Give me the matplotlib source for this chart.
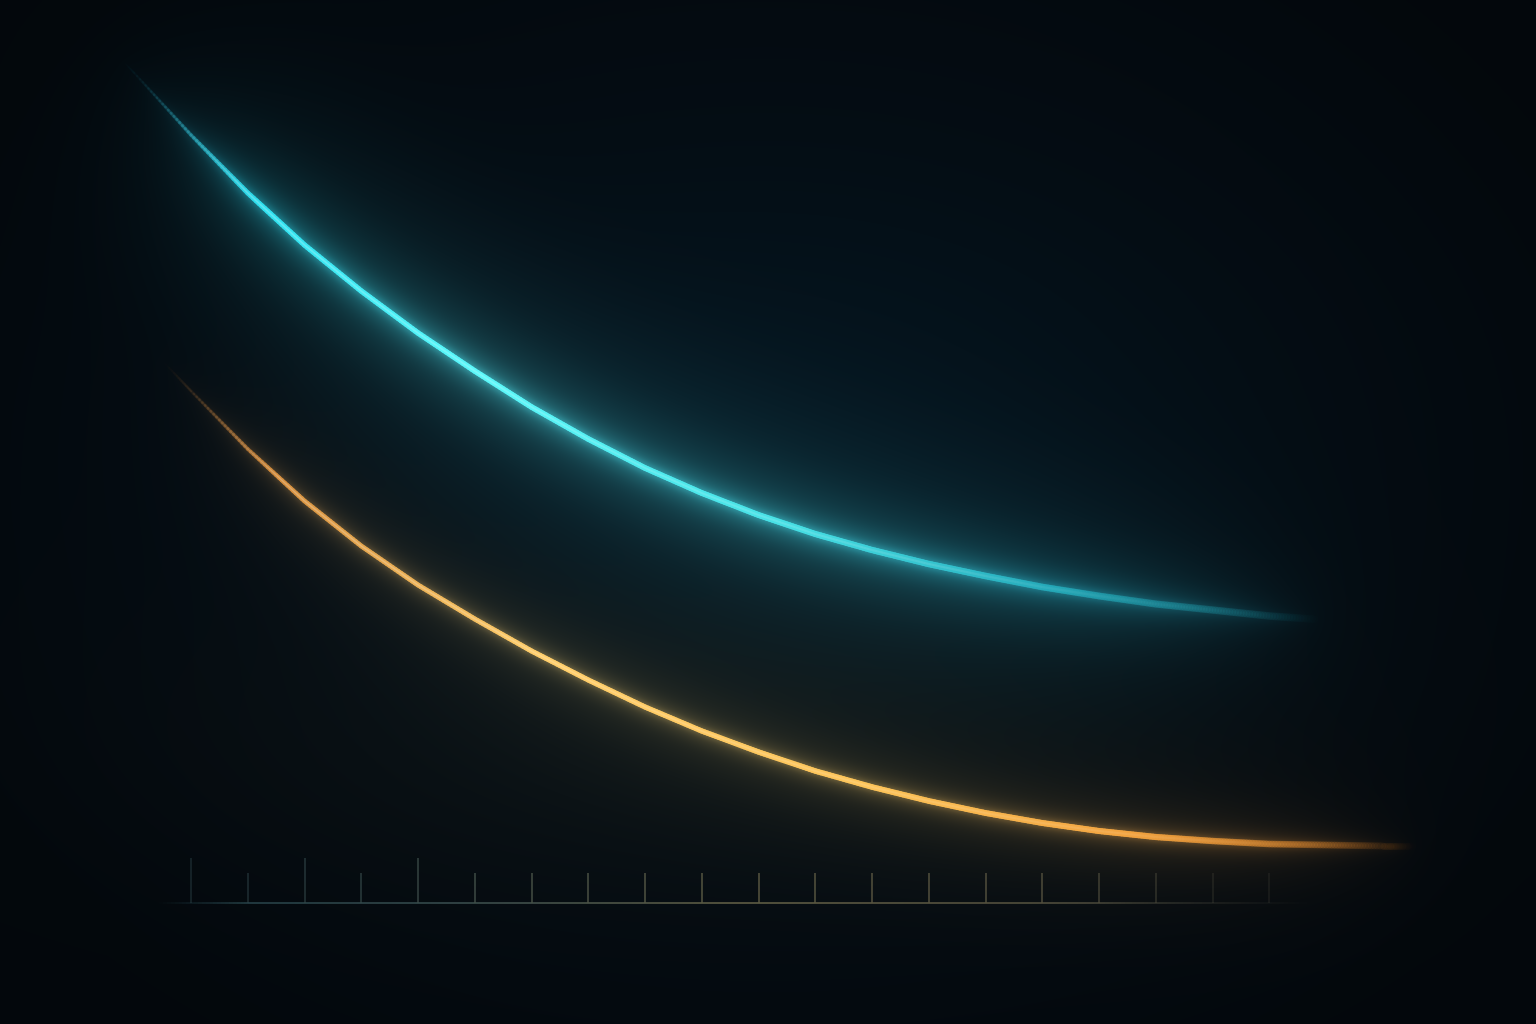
import numpy as np
import matplotlib
matplotlib.use("Agg")
import matplotlib.pyplot as plt
from matplotlib.collections import LineCollection
from matplotlib.colors import LinearSegmentedColormap

# --- data ---
tick_x = np.arange(20)
major_ticks = [0, 2, 4]

cyan_x = [-1.25, -1, 0, 1, 2, 3, 4, 5, 6, 7, 8, 9, 10, 11, 12, 13, 14, 15, 16, 17, 18, 19, 20]
cyan_y = [8.45, 8.30, 7.68, 7.10, 6.58, 6.12, 5.70, 5.32, 4.96, 4.64, 4.35, 4.10, 3.88,
          3.69, 3.53, 3.39, 3.27, 3.16, 3.07, 2.99, 2.93, 2.87, 2.83]

amber_x = [-0.55, 0, 1, 2, 3, 4, 5, 6, 7, 8, 9, 10, 11, 12, 13, 14, 15, 16, 17, 18, 19, 20, 21, 21.6]
amber_y = [5.45, 5.12, 4.54, 4.02, 3.57, 3.18, 2.84, 2.52, 2.23, 1.96, 1.72, 1.51, 1.32,
           1.16, 1.02, 0.90, 0.80, 0.72, 0.66, 0.62, 0.59, 0.58, 0.57, 0.57]

# axes limits chosen so the chart sits where it does in the picture
XLIM = (-3.366, 23.70)
YLIM = (-1.21, 9.03)
W_PX, H_PX = 1536, 1024
BG = "#060f17"

cyan_cmap = LinearSegmentedColormap.from_list("cyan", [
    (0.0, (0.08, 0.45, 0.55)), (0.15, (0.18, 0.88, 0.94)), (0.35, (0.36, 0.97, 0.98)),
    (0.6, (0.28, 0.88, 0.90)), (0.8, (0.15, 0.68, 0.74)), (1.0, (0.08, 0.42, 0.48))])
amber_cmap = LinearSegmentedColormap.from_list("amber", [
    (0.0, (0.45, 0.27, 0.12)), (0.12, (0.84, 0.56, 0.24)), (0.35, (1.0, 0.81, 0.42)),
    (0.6, (0.99, 0.77, 0.35)), (0.8, (0.95, 0.64, 0.25)), (1.0, (0.75, 0.42, 0.12))])


def densify(x, y, n=20):
    # split every straight segment into small pieces (same polyline)
    xs, ys = [], []
    for i in range(len(x) - 1):
        s = np.linspace(0, 1, n, endpoint=False)
        xs.append(x[i] + (x[i + 1] - x[i]) * s)
        ys.append(y[i] + (y[i + 1] - y[i]) * s)
    xs.append([x[-1]])
    ys.append([y[-1]])
    return np.concatenate(xs), np.concatenate(ys)


def line_pieces(x, y, cmap, fade_in, hold, wprof):
    px, py = densify(np.asarray(x, float), np.asarray(y, float))
    pts = np.column_stack([px, py])
    segs = np.stack([pts[:-1], pts[1:]], axis=1)
    d = np.hypot(np.diff(px) * 56.74, np.diff(py) * 100)
    s = np.concatenate([[0], np.cumsum(d)])
    t = (s[:-1] + s[1:]) / 2 / s[-1]
    env = np.clip(t / fade_in, 0, 1) ** 1.5 * np.clip((1 - t) / (1 - hold), 0, 1) ** 1.3
    w = np.interp(t, wprof[0], wprof[1])
    rgba = cmap(t)
    rgba[:, 3] = env
    return segs, rgba, w, t, env


cyan = line_pieces(cyan_x, cyan_y, cyan_cmap, 0.13, 0.72,
                   ([0, 0.15, 0.5, 0.8, 1.0], [1.4, 3.8, 4.1, 4.8, 5.8]))
amber = line_pieces(amber_x, amber_y, amber_cmap, 0.12, 0.78,
                    ([0, 0.15, 0.5, 0.8, 1.0], [1.6, 3.4, 3.8, 4.4, 5.2]))


def new_axes(fig):
    ax = fig.add_axes([0, 0, 1, 1])
    ax.set_xlim(*XLIM)
    ax.set_ylim(*YLIM)
    ax.axis("off")
    return ax


def render_light(piece, scale=1.2):
    # draw the line alone on black and grab the pixels, used as a glow source
    f = plt.figure(figsize=(W_PX / 100, H_PX / 100), dpi=100, facecolor="black")
    a = new_axes(f)
    segs, rgba, w, t, env = piece
    a.add_collection(LineCollection(segs, colors=rgba, linewidths=w * scale, capstyle="round"))
    f.canvas.draw()
    arr = np.asarray(f.canvas.buffer_rgba())[..., :3].astype(float) / 255
    plt.close(f)
    return arr


def blur(img, sigma):
    pad = int(3 * sigma)
    p = np.pad(img, ((pad, pad), (pad, pad), (0, 0)))
    fy = np.fft.fftfreq(p.shape[0])[:, None]
    fx = np.fft.rfftfreq(p.shape[1])[None, :]
    k = np.exp(-2 * (np.pi * sigma) ** 2 * (fx ** 2 + fy ** 2))
    out = np.fft.irfft2(np.fft.rfft2(p, axes=(0, 1)) * k[..., None], s=p.shape[:2], axes=(0, 1))
    return out[pad:pad + img.shape[0], pad:pad + img.shape[1]]


# background: dark navy, faint teal haze, dim warm haze low down, vignette
v, u = np.mgrid[0:H_PX, 0:W_PX].astype(float)
img = np.zeros((H_PX, W_PX, 3))
img[:] = np.array([5, 13, 20]) / 255
teal = np.exp(-(((u - 760) / 480) ** 2 + ((v - 430) / 260) ** 2))
img += teal[..., None] * np.array([0, 8, 11]) / 255
warm = np.exp(-(((u - 700) / 520) ** 2 + ((v - 740) / 160) ** 2))
img += warm[..., None] * np.array([8, 7, 3]) / 255
vig = 1 - 0.40 * (((u - 768) / 900) ** 2 + ((v - 480) / 700) ** 2)
img *= np.clip(vig, 0.6, 1)[..., None]

# glow: blurred copies of the lines, added as light
src_c = render_light(cyan)
src_a = render_light(amber)
img += 0.3 * blur(src_c, 4) + 0.7 * blur(src_c, 12) + 1.4 * blur(src_c, 32) + 2.6 * blur(src_c, 80)
img += 0.22 * blur(src_a, 3) + 0.45 * blur(src_a, 9) + 0.6 * blur(src_a, 25) + 0.9 * blur(src_a, 60)

fig = plt.figure(figsize=(W_PX / 100, H_PX / 100), dpi=100, facecolor=BG)
ax = new_axes(fig)
ax.imshow(np.clip(img, 0, 1), extent=[XLIM[0], XLIM[1], YLIM[0], YLIM[1]],
          aspect="auto", origin="upper", interpolation="nearest", zorder=0)

# baseline with colour drift and fading ends
bx = np.linspace(-0.63, 19.8, 300)
bseg = np.stack([np.column_stack([bx[:-1], np.zeros(299)]),
                 np.column_stack([bx[1:], np.zeros(299)])], axis=1)
bt = (bx[:-1] - bx[0]) / (bx[-1] - bx[0])
base_cmap = LinearSegmentedColormap.from_list(
    "base", ["#1d3a42", "#34484a", "#5c5a42", "#504d3c", "#2a2d2c"])
bcol = base_cmap(bt)
bcol[:, 3] = np.clip(bt / 0.08, 0, 1) * np.clip((1 - bt) / 0.2, 0, 1) * 0.95
ax.add_collection(LineCollection(bseg, colors=bcol, linewidths=1.3, zorder=2))

# ticks
tick_h = np.where(np.isin(tick_x, major_ticks), 0.45, 0.30)
tt = (tick_x - tick_x.min()) / (tick_x.max() - tick_x.min())
tcol = base_cmap(0.15 + 0.7 * tt)
tcol[:, 3] = np.clip(0.55 + tt * 1.5, 0, 0.95) * np.clip((1.05 - tt) / 0.25, 0.35, 1)
ax.vlines(tick_x, 0, tick_h, colors=tcol, linewidth=1.1, zorder=2)

# crisp cores on top
for segs, rgba, w, t, env in (cyan, amber):
    ax.add_collection(LineCollection(segs, colors=rgba, linewidths=w,
                                     capstyle="round", zorder=4))
    hot = np.ones((len(t), 4))
    hot[:, 3] = 0.22 * env * np.clip(1.2 - t, 0, 1)
    ax.add_collection(LineCollection(segs, colors=hot, linewidths=w * 0.35,
                                     capstyle="butt", zorder=5))

fig.savefig("out.png", dpi=100, facecolor=BG)
